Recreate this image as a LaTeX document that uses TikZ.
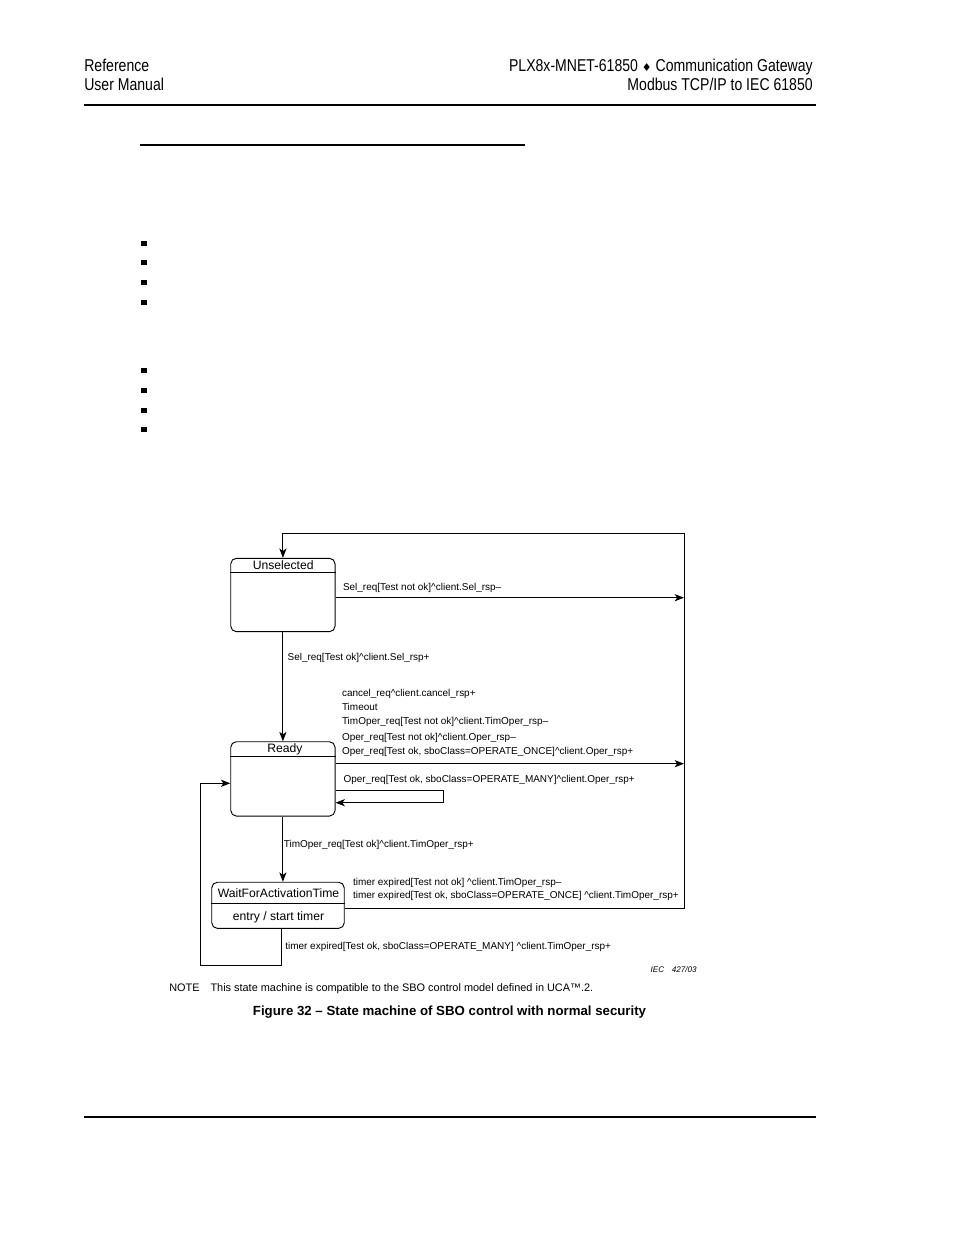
\documentclass[tikz,border=0pt]{standalone}
\usepackage{fontspec}
\setmainfont{Liberation Sans}
\newfontfamily\narrowfont[FakeStretch=0.82]{Liberation Sans}
\newfontfamily\djv{DejaVu Sans}
\usetikzlibrary{arrows.meta}
\tikzset{
  hdr/.style={inner sep=0pt, font=\narrowfont\fontsize{11}{13}\selectfont},
  statebox/.style={draw, line width=0.6pt, rounded corners=3.6pt, inner sep=0pt, minimum width=66.9pt},
  stname/.style={inner sep=0pt, font=\fontsize{7.8}{9}\selectfont},
  lbl/.style={inner sep=0pt, anchor=mid west, font=\fontsize{6.4}{7.5}\selectfont},
  conn/.style={line width=0.6pt},
  arr/.style={conn, -{Stealth[length=6pt,width=4.6pt,inset=1.6pt]}},
  bulletsq/.style={fill=black, inner sep=0pt, minimum size=3.3pt},
  rule/.style={line width=0.9pt}
}
\begin{document}
\begin{tikzpicture}[x=0.64151pt,y=-0.64151pt]
\useasboundingbox (0,0) rectangle (954,1235);
% header
\node[hdr, anchor=base west] (h1) at (84,72) {Reference};
\node[hdr, anchor=base west] (h2) at (84,91) {User Manual};
\node[hdr, anchor=base east] (h3) at (813,72) {PLX8x-MNET-61850 {\djv\fontsize{7}{8}\selectfont ♦} Communication Gateway};
\node[hdr, anchor=base east] (h4) at (813,91) {Modbus TCP/IP to IEC 61850};
\coordinate (hl1) at (84,105); \coordinate (hl2) at (816,105);
\draw[rule] (hl1) -- (hl2);
\coordinate (fl1) at (84,1117); \coordinate (fl2) at (816,1117);
\draw[rule] (fl1) -- (fl2);
% heading underline
\coordinate (ul1) at (140,145); \coordinate (ul2) at (525,145);
\draw[line width=1.4pt] (ul1) -- (ul2);
% bullets
\foreach \yy [count=\i] in {243.7,262.7,282.7,302.7,370.7,390.7,410.7,429.7}
  \node[bulletsq] (bul\i) at (144,\yy) {};

% states
\node[statebox, minimum height=47.1pt] (uns) at (282.9,595) {};
\node[stname] (unst) at (283.2,565.6) {Unselected};
\coordinate (us) at (0,572.3);
\draw[conn] (uns.west |- us) -- (uns.east |- us);

\node[statebox, minimum height=47.7pt] (rdy) at (282.9,778.9) {};
\node[stname] (rdyt) at (285,749.5) {Ready};
\coordinate (rs) at (0,756);
\draw[conn] (rdy.west |- rs) -- (rdy.east |- rs);

\node[statebox, minimum width=85pt, minimum height=29.6pt] (wft) at (278,905.3) {};
\node[stname] (wftt) at (278.5,893.3) {WaitForActivationTime};
\node[stname] (wfte) at (278.5,917.7) {entry / start timer};
\coordinate (ws) at (0,903.3);
\draw[conn] (wft.west |- ws) -- (wft.east |- ws);

% right frame
\coordinate (tl) at (282.9,533.3);
\coordinate (tr) at (684,533.3);
\coordinate (br) at (684,908.3);
\draw[conn] (wft.east |- br) -- (br) -- (tr) -- (tl);
\draw[arr] (tl) -- (uns.north);

% Unselected -> right
\coordinate (r1) at (684,597.7);
\draw[arr] (uns.east |- r1) -- (r1);
\node[lbl] (l1) at (342.7,586.7) {Sel\_req[Test not ok]\textasciicircum client.Sel\_rsp–};

% Unselected -> Ready
\draw[arr] (uns.south) -- (rdy.north);
\node[lbl] (l2) at (287.3,656) {Sel\_req[Test ok]\textasciicircum client.Sel\_rsp+};

% Ready -> right
\coordinate (r2) at (684,763.7);
\draw[arr] (rdy.east |- r2) -- (r2);
\node[lbl] (l3) at (341.7,692.7) {cancel\_req\textasciicircum client.cancel\_rsp+};
\node[lbl] (l4) at (341.7,706) {Timeout};
\node[lbl] (l5) at (341.7,720.3) {TimOper\_req[Test not ok]\textasciicircum client.TimOper\_rsp–};
\node[lbl] (l6) at (341.7,736.7) {Oper\_req[Test not ok]\textasciicircum client.Oper\_rsp–};
\node[lbl] (l7) at (341.7,750) {Oper\_req[Test ok, sboClass=OPERATE\_ONCE]\textasciicircum client.Oper\_rsp+};

% Ready self loop
\coordinate (s1) at (443.3,790.7);
\coordinate (s2) at (443.3,802.7);
\draw[arr] (rdy.east |- s1) -- (s1) -- (s2) -- (rdy.east |- s2);
\node[lbl] (l8) at (343.3,778.3) {Oper\_req[Test ok, sboClass=OPERATE\_MANY]\textasciicircum client.Oper\_rsp+};

% Ready -> Wait
\draw[arr] (rdy.south) -- (rdy.south |- wft.north);
\node[lbl] (l9) at (283.5,843.3) {TimOper\_req[Test ok]\textasciicircum client.TimOper\_rsp+};

% Wait -> right labels
\node[lbl] (l10) at (352.7,881) {timer expired[Test not ok] \textasciicircum client.TimOper\_rsp–};
\node[lbl] (l11) at (352.7,894.3) {timer expired[Test ok, sboClass=OPERATE\_ONCE] \textasciicircum client.TimOper\_rsp+};

% Wait -> Ready loop
\coordinate (b1) at (281.7,965.7);
\coordinate (b2) at (200,965.7);
\coordinate (b3) at (200,783.3);
\draw[arr] (b1 |- wft.south) -- (b1) -- (b2) -- (b3) -- (rdy.west |- b3);
\node[lbl] (l12) at (285,945.7) {timer expired[Test ok, sboClass=OPERATE\_MANY] \textasciicircum client.TimOper\_rsp+};

% IEC mark, note, caption
\node[inner sep=0pt, anchor=mid east, font=\itshape\fontsize{5.2}{6}\selectfont] (iec) at (697,968) {IEC\hspace{5pt}427/03};
\node[inner sep=0pt, anchor=mid west, font=\fontsize{7}{8.4}\selectfont] (note) at (169,987) {NOTE\hspace{7pt}This state machine is compatible to the SBO control model defined in UCA™.2.};
\node[inner sep=0pt, anchor=mid, font=\bfseries\fontsize{8.5}{10}\selectfont] (cap) at (449.5,1011) {Figure 32 – State machine of SBO control with normal security};
\end{tikzpicture}
\end{document}
